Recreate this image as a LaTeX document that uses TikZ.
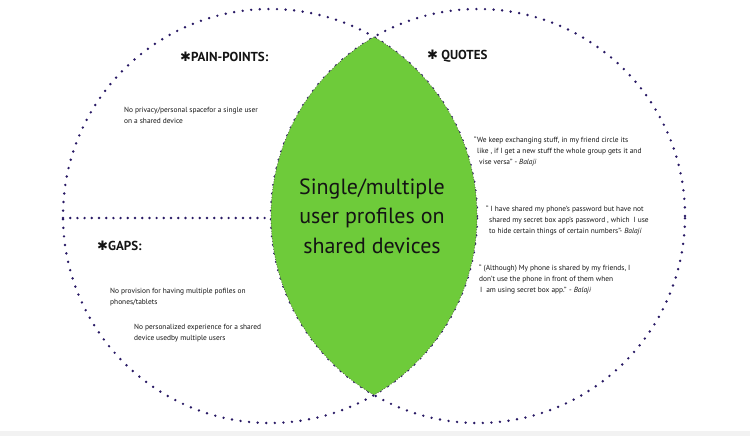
\documentclass[tikz,border=0pt]{standalone}
\usepackage{fontspec}
\setmainfont{PT Sans}
\newfontfamily\symfont{DejaVu Sans}
\definecolor{dotpurple}{RGB}{40,25,100}
\definecolor{lensgreen}{RGB}{110,203,58}
\definecolor{inkgray}{RGB}{20,20,20}
\newcommand{\heavystar}{{\symfont\fontsize{13}{13}\selectfont ✱}}

\begin{document}
\begin{tikzpicture}[x=1pt,y=-1pt,
  bigdots/.style={dotpurple,line width=2.7pt,line cap=round,dash pattern=on 0pt off 8.6pt},
  lensdots/.style={black!70,line width=1pt,line cap=round,dash pattern=on 0pt off 2.6pt},
  heading/.style={anchor=west,inner sep=0pt,text=inkgray,font=\fontsize{13}{15}\selectfont\bfseries},
  note/.style={anchor=north west,inner sep=0pt,align=left,text=inkgray,font=\fontsize{7.4}{10.6}\selectfont}]
\useasboundingbox (0,0) rectangle (750,436);
\fill[black!5] (0,431) rectangle (750,436);

\coordinate (lc) at (270,216);
\coordinate (rc) at (478,216);
\coordinate (midl) at (63,218);
\coordinate (midr) at (271,218);

% the two sets
\draw[bigdots] (lc) circle[radius=207pt];
\draw[bigdots] (rc) circle[radius=207pt];
\draw[bigdots,dash pattern=on 0pt off 7.2pt] (midl) -- (midr);

% overlap
\begin{scope}
\clip (lc) circle[radius=207pt];
\fill[lensgreen] (rc) circle[radius=207pt];
\draw[lensdots] (rc) circle[radius=207pt];
\end{scope}
\begin{scope}
\clip (rc) circle[radius=207pt];
\draw[lensdots] (lc) circle[radius=207pt];
\end{scope}

\node[align=center,text=inkgray,font=\fontsize{22}{29.5}\selectfont] (topic) at (372,216)
  {Single/multiple\\user profiles on\\shared devices};

% left half
\node[heading] (pain) at (180,57) {\heavystar PAIN-POINTS:};
\node[note] (privacy) at (124,107) {No privacy/personal spacefor a single user\\on a shared device};
\node[heading] (gaps) at (97,246) {\heavystar GAPS:};
\node[note] (profiles) at (110,288) {No provision for having multiple pofiles on\\phones/tablets};
\node[note] (personal) at (134,324) {No personalized experience for a shared\\device usedby multiple users};

% right half
\node[heading] (quotes) at (427,56) {\heavystar\ QUOTES};
\node[note] (quotea) at (474,137) {“We keep exchanging stuff, in my friend circle its\\
  \hspace{3pt}like , if I get a new stuff the whole group gets it and\\
  \hspace{5pt}vise versa” - \textit{Balaji}};
\node[note] (quoteb) at (486,206) {“ I have shared my phone’s password but have not\\
  \hspace{3pt}shared my secret box app’s password , which \ I use\\
  \hspace{3pt}to hide certain things of certain numbers”- \textit{Balaji}};
\node[note] (quotec) at (479,265) {“ (Although) My phone is shared by my friends, I\\
  don’t use the phone in front of them when\\
  \hspace{1pt}I \ am using secret box app.” - \textit{Balaji}};
\end{tikzpicture}
\end{document}
